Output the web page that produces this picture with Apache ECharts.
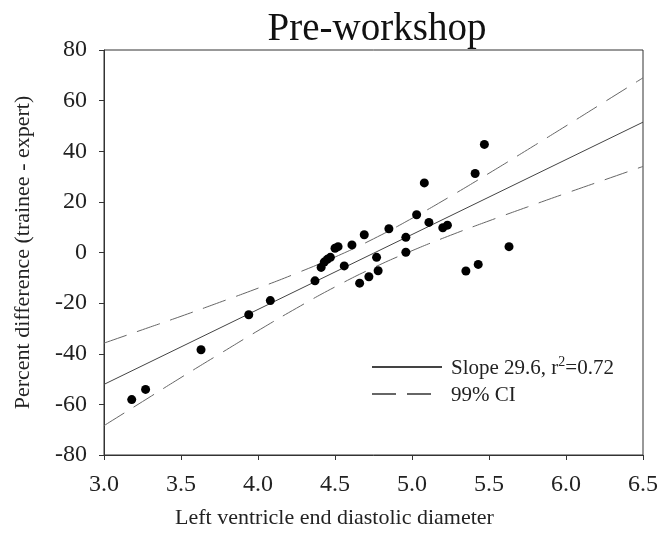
<!DOCTYPE html>
<html>
<head>
<meta charset="utf-8">
<script src="https://cdn.jsdelivr.net/npm/echarts@6/dist/echarts.min.js"></script>
<style>
  html, body { margin: 0; padding: 0; background: #fff; }
  #chart { width: 661px; height: 533px; }
</style>
</head>
<body>
<div id="chart"></div>
<script>
// Left ventricle end diastolic diameter vs. percent difference (trainee - expert)
const diameter = [3.18, 3.27, 3.63, 3.94, 4.08, 4.37, 4.41, 4.43, 4.45, 4.47, 4.50, 4.52,
                  4.56, 4.61, 4.66, 4.69, 4.72, 4.77, 4.78, 4.85, 4.96, 4.96, 5.03, 5.08,
                  5.11, 5.20, 5.23, 5.35, 5.41, 5.43, 5.47, 5.63];
const percentDiff = [-58.1, -54.1, -38.4, -24.6, -19.0, -11.2, -5.9, -3.8, -2.7, -1.9, 1.7, 2.3,
                     -5.3, 3.0, -12.1, 7.0, -9.6, -1.9, -7.2, 9.4, 6.0, 0.1, 14.9, 27.5,
                     11.9, 9.8, 10.8, -7.3, 31.2, -4.7, 42.7, 2.3];

// Regression line end points (slope 29.6)
const fitX = [3.0, 6.5];
const fitY = [-52.1, 51.5];

// 99% confidence band
const ciX = [3.0, 3.25, 3.5, 3.75, 4.0, 4.25, 4.5, 4.75, 5.0, 5.25, 5.5, 5.75, 6.0, 6.25, 6.5];
const ciUpper = [-35.8, -30.5, -25.2, -19.7, -14.1, -8.2, -1.8, 5.4, 13.5, 22.2, 31.3, 40.6, 50.0, 59.5, 69.0];
const ciLower = [-68.4, -58.9, -49.4, -40.1, -30.9, -22.0, -13.6, -6.0, 0.7, 6.8, 12.5, 18.0, 23.4, 28.7, 34.0];

const xTicks = { min: 3.0, max: 6.5, step: 0.5 };
const yTicks = { min: -80, max: 80, step: 20 };

const titleText = 'Pre-workshop';
const xName = 'Left ventricle end diastolic diameter';
const yName = 'Percent difference (trainee - expert)';
const fitName = 'fit';
const ciName = '99% CI';

const zip = (xs, ys) => xs.map((x, i) => [x, ys[i]]);
const serif = 'Liberation Serif';

const chart = echarts.init(document.getElementById('chart'));
chart.setOption({
  backgroundColor: '#fff',
  animation: false,
  title: {
    text: titleText,
    left: 372, top: 5, textAlign: 'center',
    textStyle: { fontFamily: serif, fontSize: 39, fontWeight: 'normal', color: '#111' }
  },
  grid: {
    left: 104, right: 18, top: 50, bottom: 78,
    containLabel: false, outerBoundsMode: 'none',
    show: true, borderColor: '#333', borderWidth: 1, backgroundColor: 'transparent'
  },
  legend: {
    orient: 'vertical',
    left: 366, top: 350,
    itemWidth: 70, itemHeight: 12, itemGap: 6,
    itemStyle: { opacity: 0 },
    data: [fitName, ciName],
    formatter: n => n === fitName ? '{a|Slope 29.6, r}{s|2}{a|=0.72}' : '{a|' + n + '}',
    textStyle: {
      fontFamily: serif, color: '#222', padding: [0, 0, 0, 4],
      rich: {
        a: { fontFamily: serif, fontSize: 21, color: '#222', lineHeight: 24, verticalAlign: 'bottom' },
        s: { fontFamily: serif, fontSize: 14, color: '#222', lineHeight: 24, verticalAlign: 'top', padding: [0, 0, 8, 0] }
      }
    }
  },
  xAxis: {
    type: 'value',
    min: xTicks.min, max: xTicks.max, interval: xTicks.step,
    name: xName, nameLocation: 'middle', nameGap: 52,
    nameTextStyle: { fontFamily: serif, fontSize: 22, color: '#222', padding: [0, 78, 0, 0] },
    axisLine: { onZero: false, lineStyle: { color: '#333', width: 1 } },
    axisTick: { show: true, inside: false, length: 5, lineStyle: { color: '#333' } },
    axisLabel: { fontFamily: serif, fontSize: 24, color: '#222', margin: 18,
                 formatter: v => v.toFixed(1) },
    splitLine: { show: false }
  },
  yAxis: {
    type: 'value',
    min: yTicks.min, max: yTicks.max, interval: yTicks.step,
    name: yName, nameLocation: 'middle', nameGap: 70, nameRotate: 90,
    nameTextStyle: { fontFamily: serif, fontSize: 22, color: '#222' },
    axisLine: { show: true, onZero: false, lineStyle: { color: '#333', width: 1 } },
    axisTick: { show: true, inside: false, length: 5, lineStyle: { color: '#333' } },
    axisLabel: { fontFamily: serif, fontSize: 24, color: '#222', margin: 17 },
    splitLine: { show: false }
  },
  series: [
    {
      name: ciName, type: 'line', data: zip(ciX, ciUpper), smooth: true,
      symbol: 'none', itemStyle: { color: '#666' },
      lineStyle: { color: '#666', width: 1, type: [24, 11] }, z: 2
    },
    {
      name: ciName, type: 'line', data: zip(ciX, ciLower), smooth: true,
      symbol: 'none', itemStyle: { color: '#666' },
      lineStyle: { color: '#666', width: 1, type: [24, 11] }, z: 2
    },
    {
      name: fitName, type: 'line', data: zip(fitX, fitY),
      symbol: 'none', itemStyle: { color: '#444' },
      lineStyle: { color: '#444', width: 1 }, z: 3
    },
    {
      name: 'data', type: 'scatter', data: zip(diameter, percentDiff),
      symbol: 'circle', symbolSize: 9, itemStyle: { color: '#000', opacity: 1 }, z: 4
    }
  ]
});
</script>
</body>
</html>
